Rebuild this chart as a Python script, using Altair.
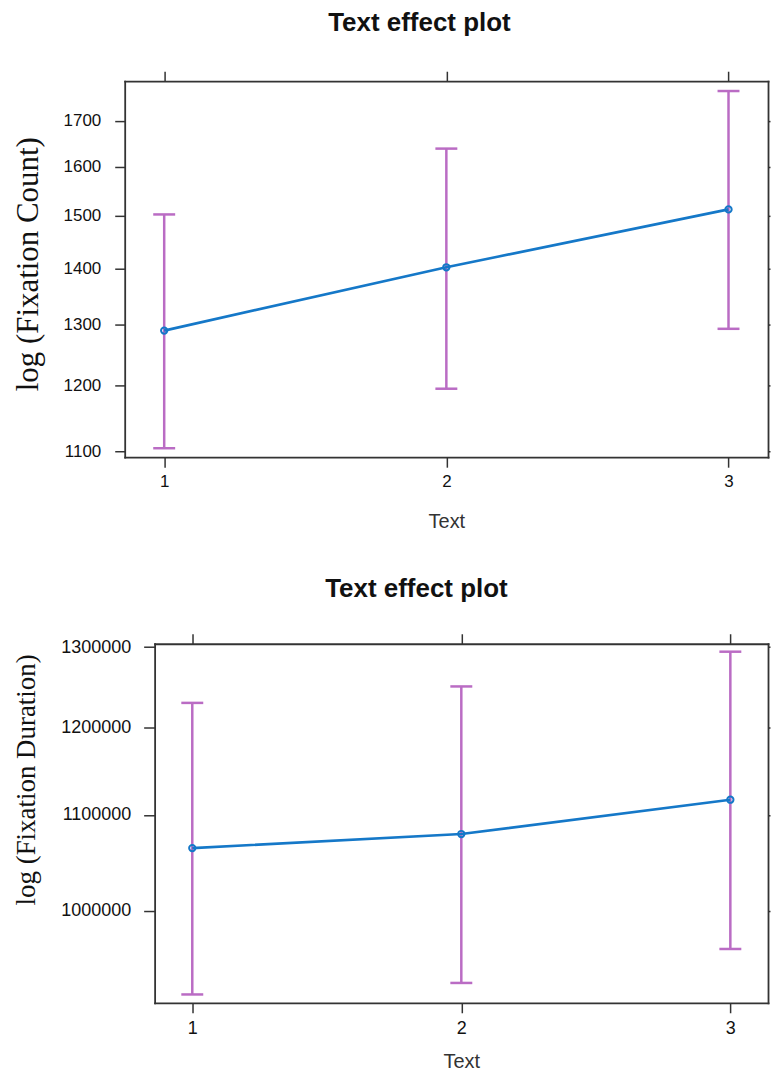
import altair as alt
import pandas as pd

# ---- data ----
text_levels = [1, 2, 3]

count_fit = [1290, 1402, 1513]
count_lower = [1105, 1195, 1293]
count_upper = [1503, 1639, 1768]
count_ticks = [1100, 1200, 1300, 1400, 1500, 1600, 1700]
count_domain = [1092, 1791]

dur_fit = [1064200, 1079200, 1116700]
dur_lower = [919900, 930500, 962500]
dur_upper = [1229700, 1250000, 1294000]
dur_ticks = [1000000, 1100000, 1200000, 1300000]
dur_domain = [912300, 1304300]

x_ticks = [1, 2, 3]
x_domain = [0.86, 3.14]

BLUE = "#1578C8"
PURPLE = "#BA6CC4"
DARK = "#333333"
SANS = "Liberation Sans"
SERIF = "Liberation Serif"


def panel(fit, lower, upper, yticks, ydomain, ytitle, w, h, cfg):
    df = pd.DataFrame({"Text": text_levels, "fit": fit, "lower": lower, "upper": upper})
    caps = pd.DataFrame({"Text": text_levels + text_levels, "v": lower + upper})
    inset = cfg["inset"]
    xs = alt.Scale(domain=x_domain, nice=False, zero=False, range=[inset, w])
    ys = alt.Scale(type="log", domain=ydomain, nice=False)

    frame = dict(domain=True, domainColor=DARK, domainWidth=1.8, domainCap="square", grid=False,
                 tickColor=DARK, tickWidth=1.5)
    x_bottom = alt.Axis(
        values=x_ticks, format="d", title="Text", orient="bottom", tickSize=10,
        labelPadding=cfg["xlp"], labelFont=SANS, labelFontSize=cfg["lfs"], labelColor="#111",
        titleFont=SANS, titleFontSize=20, titleFontWeight="normal", titleColor=DARK,
        titlePadding=cfg["xtp"], **frame,
    )
    y_left = alt.Axis(
        values=yticks, format="d", title=ytitle, orient="left", tickSize=cfg["yts"],
        offset=-inset,
        labelPadding=cfg["ylp"], labelFont=SANS, labelFontSize=cfg["lfs"], labelColor="#111",
        titleFont=SERIF, titleFontSize=cfg["tfs"], titleFontWeight="normal", titleColor="#111",
        titlePadding=cfg["ytp"], titleY=cfg["titleY"], **frame,
    )
    x_top = alt.Axis(
        values=x_ticks, orient="top", labels=False, title=None, tickSize=10, **frame,
    )
    y_right = alt.Axis(
        values=yticks, orient="right", labels=False, title=None, tickSize=2, **frame,
    )

    base = alt.Chart(df)
    bars = base.mark_rule(color=PURPLE, strokeWidth=2.5).encode(
        x=alt.X("Text:Q", scale=xs, axis=x_bottom),
        y=alt.Y("lower:Q", scale=ys, axis=y_left),
        y2="upper:Q",
    )
    cap_marks = alt.Chart(caps).mark_tick(
        orient="horizontal", size=22, thickness=2.5, color=PURPLE, opacity=1
    ).encode(
        x=alt.X("Text:Q", scale=xs, axis=None),
        y=alt.Y("v:Q", scale=ys, axis=None),
    )
    line = base.mark_line(color=BLUE, strokeWidth=2.7).encode(
        x=alt.X("Text:Q", scale=xs, axis=None),
        y=alt.Y("fit:Q", scale=ys, axis=None),
    )
    pts = base.mark_point(shape="circle", filled=False, size=40, strokeWidth=2, color=BLUE, opacity=1).encode(
        x=alt.X("Text:Q", scale=xs, axis=None),
        y=alt.Y("fit:Q", scale=ys, axis=None),
    )
    ghost = base.mark_point(opacity=0).encode(
        x=alt.X("Text:Q", scale=xs, axis=x_top),
        y=alt.Y("fit:Q", scale=ys, axis=y_right),
    )
    return alt.layer(bars, cap_marks, line, pts, ghost).resolve_axis(
        x="independent", y="independent"
    ).properties(
        width=w, height=h,
        title=alt.Title(
            "Text effect plot", font=SANS, fontSize=26, fontWeight="bold", color="#111",
            anchor="middle", dx=cfg["tdx"], offset=cfg["toff"],
        ),
    )


top = panel(
    count_fit, count_lower, count_upper, count_ticks, count_domain,
    "log (Fixation Count)", 645, 377,
    dict(inset=0, xlp=6, xtp=22, lfs=17, yts=10, ylp=14, tfs=31, ytp=19, titleY=183,
         tdx=-27, toff=35),
)
bottom = panel(
    dur_fit, dur_lower, dur_upper, dur_ticks, dur_domain,
    "log (Fixation Duration)", 645, 360,
    dict(inset=30, xlp=7, xtp=14, lfs=18, yts=11, ylp=13, tfs=27, ytp=20, titleY=136,
         tdx=-30, toff=31),
)

chart = alt.vconcat(top, bottom, spacing=45).properties(
    padding={"left": 4, "top": 0, "right": 0, "bottom": 0}
).configure_view(strokeWidth=0)

chart.save("out.html", embed_options={"renderer": "svg", "actions": False})
